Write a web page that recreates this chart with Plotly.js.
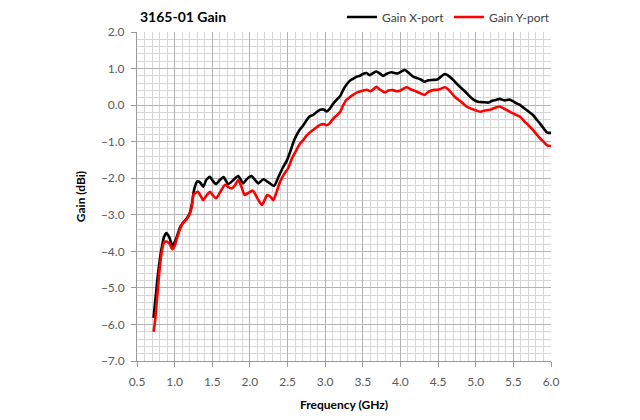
<!DOCTYPE html>
<html>
<head>
<meta charset="utf-8">
<script src="https://cdn.plot.ly/plotly-3.0.1.min.js"></script>
<style>html,body{margin:0;padding:0;background:#fff;}#chart{width:640px;height:420px;}</style>
</head>
<body>
<div id="chart"></div>
<script>
var freqX = [0.72,0.75,0.78,0.82,0.86,0.89,0.93,0.97,1.0,1.03,1.07,1.1,1.16,1.2,1.23,1.26,1.3,1.34,1.38,1.42,1.47,1.51,1.55,1.6,1.65,1.71,1.78,1.845,1.91,1.96,2.02,2.07,2.11,2.18,2.25,2.32,2.38,2.44,2.49,2.54,2.58,2.62,2.66,2.71,2.75,2.8,2.84,2.88,2.93,2.98,3.02,3.06,3.11,3.15,3.2,3.24,3.28,3.33,3.37,3.42,3.46,3.5,3.55,3.59,3.64,3.68,3.73,3.77,3.82,3.88,3.93,3.97,4.02,4.06,4.1,4.17,4.22,4.27,4.32,4.37,4.43,4.49,4.54,4.59,4.64,4.7,4.75,4.8,4.86,4.91,4.97,5.03,5.1,5.17,5.22,5.27,5.32,5.38,5.45,5.5,5.55,5.59,5.64,5.7,5.76,5.82,5.86,5.9,5.95,6.0];
var gainX = [-5.82,-5.2,-4.6,-4.0,-3.6,-3.5,-3.62,-3.85,-3.75,-3.6,-3.35,-3.25,-3.1,-2.96,-2.7,-2.3,-2.09,-2.12,-2.23,-2.05,-1.96,-2.08,-2.16,-2.05,-1.97,-2.16,-2.05,-1.94,-2.14,-2.02,-1.94,-2.05,-2.14,-2.03,-2.12,-2.21,-1.96,-1.7,-1.52,-1.25,-1.0,-0.82,-0.68,-0.55,-0.42,-0.3,-0.27,-0.2,-0.13,-0.12,-0.17,-0.1,0.05,0.14,0.25,0.42,0.55,0.67,0.72,0.78,0.8,0.85,0.88,0.82,0.88,0.92,0.86,0.8,0.86,0.9,0.87,0.87,0.93,0.96,0.9,0.78,0.74,0.7,0.64,0.68,0.69,0.7,0.78,0.85,0.8,0.69,0.58,0.48,0.37,0.26,0.15,0.09,0.08,0.07,0.12,0.14,0.17,0.13,0.15,0.1,0.04,0.0,-0.08,-0.17,-0.27,-0.42,-0.52,-0.63,-0.75,-0.76];
var freqY = [0.72,0.74,0.77,0.8,0.83,0.86,0.89,0.93,0.97,1.0,1.03,1.07,1.1,1.16,1.2,1.23,1.25,1.28,1.31,1.35,1.38,1.42,1.47,1.51,1.55,1.6,1.67,1.72,1.76,1.8,1.845,1.89,1.93,1.98,2.04,2.1,2.16,2.23,2.27,2.31,2.35,2.4,2.45,2.51,2.56,2.62,2.66,2.71,2.75,2.8,2.84,2.89,2.93,2.98,3.02,3.06,3.11,3.16,3.2,3.24,3.28,3.31,3.37,3.42,3.46,3.51,3.55,3.6,3.64,3.68,3.73,3.79,3.84,3.9,3.95,3.99,4.04,4.08,4.13,4.19,4.25,4.32,4.37,4.43,4.49,4.54,4.59,4.64,4.72,4.8,4.88,4.97,5.06,5.12,5.19,5.25,5.32,5.38,5.45,5.52,5.59,5.65,5.7,5.76,5.82,5.86,5.9,5.95,6.0];
var gainY = [-6.2,-5.9,-5.2,-4.5,-4.0,-3.75,-3.73,-3.78,-3.94,-3.85,-3.65,-3.4,-3.25,-3.12,-2.98,-2.75,-2.45,-2.4,-2.37,-2.5,-2.6,-2.48,-2.37,-2.47,-2.55,-2.4,-2.18,-2.25,-2.28,-2.2,-2.05,-2.25,-2.46,-2.4,-2.34,-2.55,-2.73,-2.46,-2.5,-2.6,-2.4,-2.1,-1.9,-1.72,-1.45,-1.22,-1.07,-0.95,-0.84,-0.74,-0.68,-0.6,-0.54,-0.52,-0.55,-0.5,-0.36,-0.27,-0.18,0.0,0.14,0.19,0.28,0.34,0.37,0.4,0.42,0.38,0.43,0.5,0.42,0.35,0.4,0.41,0.38,0.39,0.45,0.49,0.44,0.39,0.34,0.28,0.36,0.41,0.42,0.45,0.49,0.42,0.23,0.1,-0.04,-0.12,-0.18,-0.15,-0.13,-0.08,-0.04,-0.1,-0.18,-0.25,-0.32,-0.45,-0.55,-0.68,-0.83,-0.92,-1.0,-1.1,-1.12];
var seriesNames = ['Gain X-port', 'Gain Y-port'];

var font = 'Lato, "Open Sans", "Liberation Sans", sans-serif';
var traces = [
  {x: freqX, y: gainX, name: seriesNames[0], type: 'scatter', mode: 'lines',
   line: {color: '#000000', width: 2.6, shape: 'spline', smoothing: 0.6}},
  {x: freqY, y: gainY, name: seriesNames[1], type: 'scatter', mode: 'lines',
   line: {color: '#ff0000', width: 2.6, shape: 'spline', smoothing: 0.6}}
];
var layout = {
  width: 640, height: 420,
  margin: {l: 137, r: 89, t: 32, b: 59},
  paper_bgcolor: '#ffffff', plot_bgcolor: '#ffffff',
  font: {family: font, size: 12, color: '#595959'},
  title: {text: '<b>3165-01 Gain</b>', x: 140/640, xanchor: 'left', y: 1 - 17/420, yanchor: 'middle',
          font: {family: font, size: 14, color: '#000000'}},
  showlegend: true,
  legend: {orientation: 'h', x: 0.495, xanchor: 'left', y: 1 - 17/420, yref: 'container', yanchor: 'middle',
           font: {family: font, size: 12, color: '#404040'}, bgcolor: 'rgba(0,0,0,0)',
           entrywidth: 62, entrywidthmode: 'pixels', tracegroupgap: 0},
  xaxis: {
    range: [0.5, 6.0], dtick: 0.5, tick0: 0.5, tickformat: '.1f',
    showgrid: true, gridcolor: '#b3b3b3', gridwidth: 1,
    minor: {dtick: 0.1, showgrid: true, gridcolor: '#d6d6d6', gridwidth: 1},
    showline: true, linecolor: '#9a9a9a', linewidth: 1,
    ticks: 'outside', ticklen: 5, tickcolor: '#9a9a9a', ticklabelstandoff: 5,
    zeroline: false,
    tickfont: {family: font, size: 12, color: '#595959'},
    title: {text: '<b>Frequency (GHz)</b>', standoff: 12, font: {family: font, size: 12, color: '#000000'}}
  },
  yaxis: {
    range: [-7, 2], dtick: 1, tick0: 0, tickformat: '.1f',
    showgrid: true, gridcolor: '#b3b3b3', gridwidth: 1,
    minor: {dtick: 0.2, showgrid: true, gridcolor: '#d6d6d6', gridwidth: 1},
    showline: true, linecolor: '#9a9a9a', linewidth: 1,
    ticks: 'outside', ticklen: 5, tickcolor: '#9a9a9a', ticklabelstandoff: 4,
    zeroline: false,
    tickfont: {family: font, size: 12, color: '#595959'},
    title: {text: '<b>Gain (dBi)</b>', standoff: 12, font: {family: font, size: 12, color: '#000000'}}
  }
};
Plotly.newPlot('chart', traces, layout, {displayModeBar: false, staticPlot: true});
</script>
</body>
</html>
